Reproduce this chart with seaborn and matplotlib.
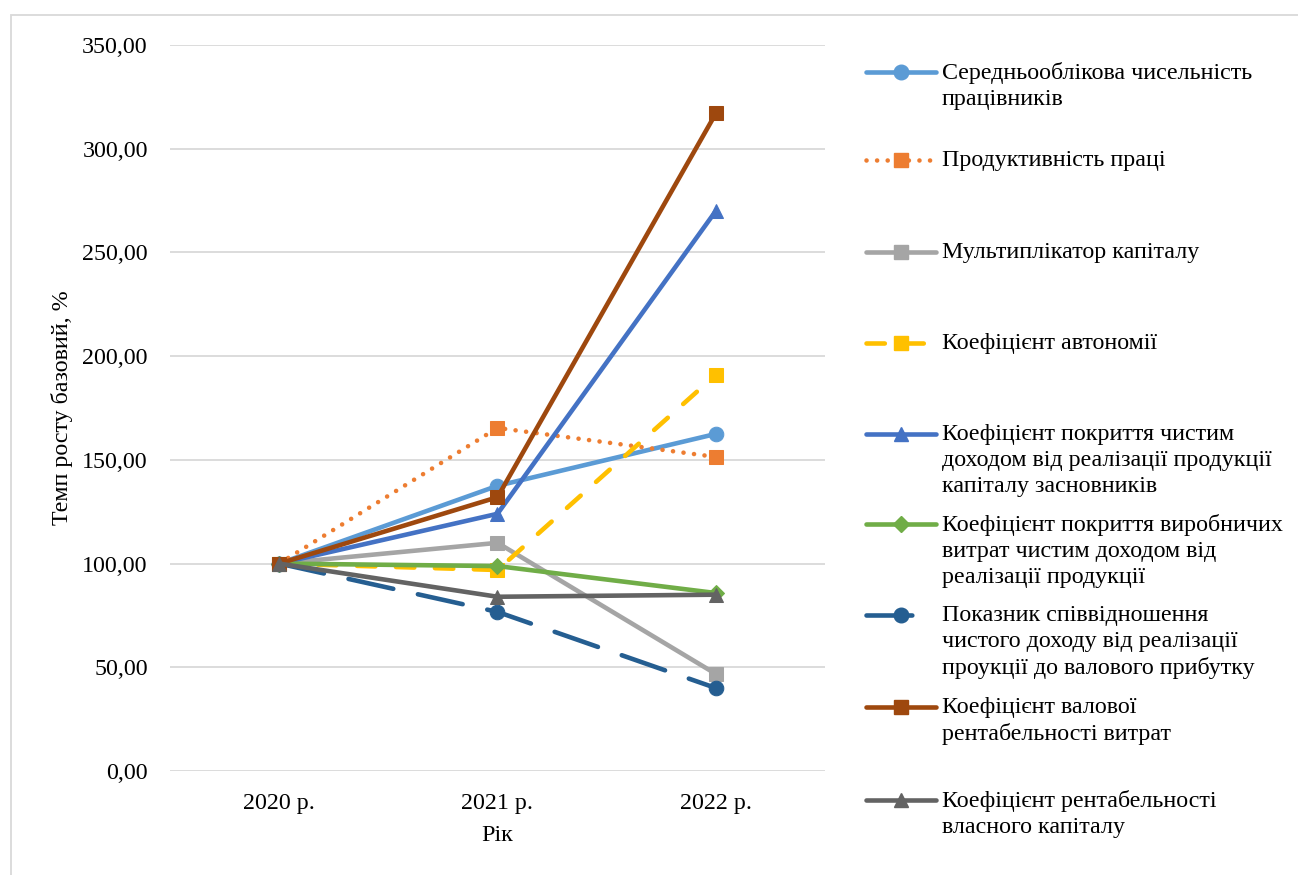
import matplotlib
matplotlib.use("Agg")
import matplotlib.pyplot as plt
from matplotlib.lines import Line2D
from matplotlib.patches import Rectangle
import seaborn as sns
import pandas as pd

# --- data -------------------------------------------------------------
years = ["2020 р.", "2021 р.", "2022 р."]

avg_headcount = [100.0, 137.5, 162.5]
labour_productivity = [100.0, 165.4, 151.4]
equity_multiplier = [100.0, 110.0, 46.8]
autonomy_ratio = [100.0, 96.9, 191.0]
revenue_to_founders_capital = [100.0, 124.0, 270.0]
revenue_to_production_costs = [100.0, 98.8, 85.8]
revenue_to_gross_profit = [100.0, 76.7, 40.0]
gross_cost_profitability = [100.0, 132.0, 317.0]
return_on_equity = [100.0, 84.0, 85.0]

series_labels = [
    "Середньооблікова чисельність\nпрацівників",
    "Продуктивність праці",
    "Мультиплікатор капіталу",
    "Коефіцієнт автономії",
    "Коефіцієнт покриття чистим\nдоходом від реалізації продукції\nкапіталу засновників",
    "Коефіцієнт покриття виробничих\nвитрат чистим доходом від\nреалізації продукції",
    "Показник співвідношення\nчистого доходу від реалізації\nпроукції до валового прибутку",
    "Коефіцієнт валової\nрентабельності витрат",
    "Коефіцієнт рентабельності\nвласного капіталу",
]

y_ticks = [0, 50, 100, 150, 200, 250, 300, 350]
y_tick_labels = ["0,00", "50,00", "100,00", "150,00", "200,00", "250,00", "300,00", "350,00"]

y_title = "Темп росту базовий, %"
x_title = "Рік"

series_values = [
    avg_headcount, labour_productivity, equity_multiplier, autonomy_ratio,
    revenue_to_founders_capital, revenue_to_production_costs,
    revenue_to_gross_profit, gross_cost_profitability, return_on_equity,
]

# --- styles -----------------------------------------------------------
styles = [
    dict(color="#5B9BD5", marker="o", ms=10.5, ls="-"),
    dict(color="#ED7D31", marker="s", ms=10, ls=(0, (0.01, 2.3))),
    dict(color="#A5A5A5", marker="s", ms=10, ls="-"),
    dict(color="#FFC000", marker="s", ms=10, ls=(0, (4, 4.5))),
    dict(color="#4472C4", marker="^", ms=10.5, ls="-"),
    dict(color="#70AD47", marker="D", ms=8, ls="-"),
    dict(color="#255E91", marker="o", ms=10.5, ls=(0, (10, 5.5))),
    dict(color="#9E480E", marker="s", ms=10, ls="-"),
    dict(color="#636363", marker="^", ms=10.5, ls="-"),
]

sns.set_theme(style="white")
plt.rcParams["font.family"] = ["Liberation Serif", "DejaVu Serif"]

FS = 17.3
W, H = 1298, 875
fig = plt.figure(figsize=(W / 100, H / 100), dpi=100)
ax = fig.add_axes([170 / W, 1 - 771 / H, (825 - 170) / W, (771 - 45) / H])

positions = list(range(len(years)))
LW = 3.3

for vals, st in zip(series_values, styles):
    df = pd.DataFrame({"x": positions, "y": vals})
    sns.lineplot(
        data=df, x="x", y="y", ax=ax, sort=False,
        color=st["color"], marker=st["marker"], markersize=st["ms"],
        markeredgecolor=st["color"], markerfacecolor=st["color"],
        linewidth=LW, linestyle=st["ls"],
        dash_capstyle="round", solid_capstyle="round", solid_joinstyle="round",
        zorder=3,
    )

ax.set_xlim(-0.5, 2.5)
ax.set_ylim(0, 350)
ax.set_xticks(positions)
ax.set_xticklabels(years)
ax.set_yticks(y_ticks)
ax.set_yticklabels(y_tick_labels)
ax.tick_params(axis="both", length=0, labelsize=FS, labelcolor="#000000")
ax.tick_params(axis="y", pad=16)
ax.tick_params(axis="x", pad=16)

ax.grid(axis="y", color="#D9D9D9", linewidth=1.3)
ax.grid(axis="x", visible=False)
for sp in ax.spines.values():
    sp.set_visible(False)

ax.set_ylabel(y_title, fontsize=FS, color="#000000")
ax.set_xlabel(x_title, fontsize=FS, color="#000000", labelpad=8)
ax.yaxis.set_label_coords((73 - 170) / (825 - 170), 0.5)

# --- legend, one evenly spaced entry per series ------------------------
entry_y = [72, 160, 252, 343, 434, 524, 615, 707, 800]
for lab, st, yp in zip(series_labels, styles, entry_y):
    yf = 1 - yp / H
    fig.add_artist(Line2D([866 / W, 936 / W], [yf, yf], transform=fig.transFigure,
                          color=st["color"], lw=LW, ls=st["ls"],
                          dash_capstyle="round", solid_capstyle="round"))
    fig.add_artist(Line2D([901 / W], [yf], transform=fig.transFigure,
                          color=st["color"], marker=st["marker"], markersize=st["ms"],
                          markeredgecolor=st["color"], markerfacecolor=st["color"], ls="none"))
    fig.text(942 / W, 1 - (yp - 10) / H, lab, fontsize=FS, color="#000000",
             va="top", ha="left", linespacing=1.3)

# outer chart frame
fig.add_artist(Rectangle((11 / W, -0.01), 1.02 - 11 / W, 1 - 15 / H + 0.01,
                         transform=fig.transFigure, fill=False,
                         edgecolor="#D9D9D9", linewidth=1.3))

fig.savefig("out.png", dpi=100)
